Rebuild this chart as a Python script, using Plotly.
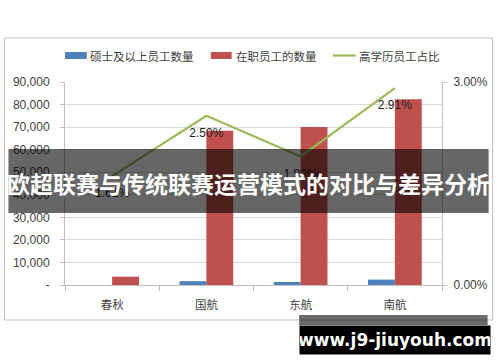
import plotly.graph_objects as go

categories = ["春秋", "国航", "东航", "南航"]
masters = [0, 1710, 1330, 2395]
staff = [3700, 68400, 70000, 82300]
ratio = [0.0161, 0.0250, 0.0190, 0.0291]
ratio_labels = ["1.61%", "2.50%", "1.90%", "2.91%"]
series_names = ["硕士及以上员工数量", "在职员工的数量", "高学历员工占比"]
series_colors = ["#4F81BD", "#C0504D", "#9BBB59"]
left_ticks = [0, 10000, 20000, 30000, 40000, 50000, 60000, 70000, 80000, 90000]
left_text = ["-", "10,000", "20,000", "30,000", "40,000", "50,000", "60,000", "70,000", "80,000", "90,000"]
right_ticks = [0, 0.03]
right_text = ["0.00%", "3.00%"]
banner_title = "欧超联赛与传统联赛运营模式的对比与差异分析"
watermark = "www.j9-jiuyouh.com"

FONT = "Liberation Sans, Noto Sans CJK SC, sans-serif"
CJK = "Noto Sans CJK SC, sans-serif"

# plot area in pixels: x 65..445, y 82..285
def px(x):
    return (x - 65) / 380.0

def py(y):
    return (285 - y) / 203.0

fig = go.Figure()
fig.add_trace(go.Bar(x=categories, y=masters, name=series_names[0],
                     marker=dict(color=series_colors[0], line=dict(width=0))))
fig.add_trace(go.Bar(x=categories, y=staff, name=series_names[1],
                     marker=dict(color=series_colors[1], line=dict(width=0))))
fig.add_trace(go.Scatter(x=categories, y=ratio, name=series_names[2], yaxis="y2",
                         mode="lines+markers+text", text=ratio_labels,
                         textposition="bottom center",
                         textfont=dict(family=FONT, size=12, color="#222222"),
                         marker=dict(size=18, color="rgba(0,0,0,0)"),
                         line=dict(color=series_colors[2], width=2.2)))

# outer chart border
fig.add_shape(type="rect", xref="paper", yref="paper",
              x0=px(4), x1=px(496), y0=py(320), y1=py(38),
              line=dict(color="#bfbfbf", width=1), fillcolor="rgba(0,0,0,0)", layer="below")

# manual legend
fig.add_shape(type="rect", xref="paper", yref="paper", x0=px(65), x1=px(87), y0=py(59), y1=py(52),
              line=dict(width=0), fillcolor=series_colors[0])
fig.add_shape(type="rect", xref="paper", yref="paper", x0=px(212), x1=px(233), y0=py(59), y1=py(52),
              line=dict(width=0), fillcolor=series_colors[1])
fig.add_shape(type="line", xref="paper", yref="paper", x0=px(335), x1=px(358), y0=py(55.5), y1=py(55.5),
              line=dict(color=series_colors[2], width=2.2))
for xs, name in zip([88, 235, 359], series_names):
    fig.add_annotation(xref="paper", yref="paper", x=px(xs), y=py(56), text=name,
                       showarrow=False, xanchor="left", yanchor="middle",
                       font=dict(family=CJK, size=11.5, color="#404040"))

# banner overlay
fig.add_shape(type="rect", xref="paper", yref="paper",
              x0=px(8), x1=px(492), y0=py(213), y1=py(149),
              line=dict(width=0), fillcolor="rgba(0,0,0,0.6)", layer="above")
fig.add_annotation(xref="paper", yref="paper", x=px(250), y=py(183),
                   text="<b>%s</b>" % banner_title, showarrow=False,
                   font=dict(family=CJK, size=23, color="white"))

# watermark
fig.add_shape(type="rect", xref="paper", yref="paper",
              x0=px(301), x1=px(491), y0=py(325), y1=py(315),
              line=dict(width=0), fillcolor="rgba(0,0,0,0.58)", layer="above")
fig.add_annotation(xref="paper", yref="paper", x=px(301), y=py(325),
                   xanchor="left", yanchor="top",
                   text="<b>%s</b>" % watermark, showarrow=False,
                   width=190, height=28, borderpad=0, bgcolor="black",
                   align="center", valign="middle",
                   font=dict(family="DejaVu Sans, sans-serif", size=17, color="white"))

fig.update_layout(
    width=500, height=362,
    margin=dict(l=65, r=55, t=82, b=77),
    paper_bgcolor="white", plot_bgcolor="white",
    barmode="group", bargap=0.43, bargroupgap=0,
    font=dict(family=FONT, size=12, color="#404040"),
    showlegend=False,
    xaxis=dict(type="category", showgrid=False, showline=True, linecolor="#bfbfbf",
               ticks="outside", tickson="boundaries", ticklen=5, tickcolor="#bfbfbf",
               ticklabelstandoff=9,
               tickfont=dict(family=CJK, size=11.5, color="#404040")),
    yaxis=dict(range=[0, 90000], tickvals=left_ticks, ticktext=left_text,
               showgrid=True, gridcolor="#d9d9d9", showline=True, linecolor="#bfbfbf",
               ticks="outside", ticklen=4, tickcolor="#bfbfbf", zeroline=False,
               ticklabelstandoff=8, tickfont=dict(size=12)),
    yaxis2=dict(range=[0, 0.03], tickvals=right_ticks, ticktext=right_text,
                overlaying="y", side="right", showgrid=False, showline=True,
                linecolor="#bfbfbf", ticks="outside", ticklen=4, tickcolor="#bfbfbf",
                zeroline=False, ticklabelstandoff=4, tickfont=dict(size=12)),
)

fig.write_html("out.html")
